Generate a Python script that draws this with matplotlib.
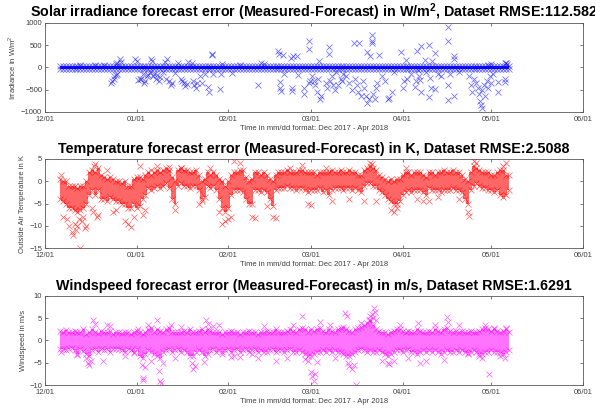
import numpy as np
import pandas as pd
import matplotlib
matplotlib.use("Agg")
import matplotlib.pyplot as plt
import matplotlib.dates as mdates

plt.rcParams["font.family"] = ["Liberation Sans", "DejaVu Sans"]
plt.rcParams["mathtext.fontset"] = "custom"
plt.rcParams["mathtext.rm"] = "Liberation Sans"
plt.rcParams["mathtext.bf"] = "Liberation Sans:bold"

# ── Data (days counted from 2017-12-01) ───────────────────────────────────────
BASE = pd.Timestamp("2017-12-01")
first_day, last_day = 5, 157          # daily band covers Dec 6 .. May 7

# temperature: dense band edges per day (K)
temp_hi = [0.5, 0, 0, -1, -1, -1, -1.5, -1, -1, 0,
           2, 2.5, 2, 3, 1.5, 1, 0.5, 1, 0.5, 0,
           0, -0.5, 0, -1, -1, 0.5, 1, 1, 0.5, 1.5,
           2, 1.5, 2, 2.5, 2, 2.5, 3, 2.5, 1, 0,
           2.5, 3, 2.5, 2.5, 2, 2, 2.5, 1.5, 0, 0.5,
           2, 1.5, 2, 1.5, 0.5, 0, -1, 0, 1.5, 2,
           2, 2.5, 2.5, 1, 0, 0.5, 2, 2, 1.5, 2,
           1.5, 0.5, 0, 1.5, 2, 2, 2, 2.5, 2, 2,
           2, 2.5, 2.5, 2, 2, 2, 2, 1.5, 2, 2,
           2, 2, 2.5, 2, 2, 2.5, 2, 2, 2.5, 2,
           2, 1.5, 1.5, 2.5, 3, 3.5, 3, 2.5, 1.5, 1,
           0.5, 0, 0.5, 0, 0.5, 0.5, 1.5, 2, 2, 1.5,
           2, 2, 2, 1.5, 1, 2, 2, 1.5, 2, 2,
           2.5, 2, 2, 2.5, 2, 2, 1.5, 0.5, 0, 2,
           3.5, 3, 2.5, 2, 2, 2, 1.5, 1.5, 2, 2.5,
           2.5, 1.5, 1.5]
temp_lo = [-4, -4.5, -5, -6, -6, -6.5, -7, -6.5, -6, -5,
           -3, -2, -3, -2, -4, -4, -4.5, -3.5, -4, -4.5,
           -4.5, -5, -5, -6, -6, -5, -6, -5.5, -4, -3,
           -1.5, -2, -1.5, -1, -1.5, -1, -0.5, -1.5, -4, -5,
           -1, -0.5, -1, -1, -1.5, -1, -1, -2, -4, -3.5,
           -1, -1.5, -1, -2, -4, -6, -7, -6, -3, -2,
           -2, -2, -2.5, -4, -5, -5, -2, -2, -2.5, -2,
           -2.5, -4, -5.5, -2, -1.5, -1.5, -1.5, -1, -1.5, -1.5,
           -2, -1.5, -1.5, -2, -2.5, -2, -2, -2, -1.5, -2.5,
           -2, -3, -2, -1.5, -1.5, -1.5, -2, -1.5, -1.5, -2,
           -1.5, -2, -2.5, -1, -0.5, -0.5, -1, -1, -2, -2.5,
           -3, -4, -4.5, -5, -5, -4.5, -3, -2.5, -2, -2.5,
           -2, -2, -2, -2.5, -3, -1.5, -2, -2, -2, -2.5,
           -2, -2, -2, -1.5, -2, -2, -2.5, -4, -5, -2,
           -1, -0.5, -1, -1.5, -1.5, -2, -2, -2.5, -2, -3,
           -3.5, -3, -2]
temp_out_day = [5.5, 6, 7.5, 8, 9, 9.5, 10, 10.5, 11, 11.5, 12, 12.5, 13, 13.5, 14,
                16, 16.2, 16.5, 17, 17.5, 18, 21, 23, 24, 27, 28, 29, 30, 32, 33,
                34, 36, 38, 42, 44, 46, 52, 53, 56, 59, 60, 61, 62, 63, 64, 66,
                70, 71, 75, 77, 78, 83, 87, 89, 90, 95, 97, 103, 108, 110, 110.5,
                112, 117, 118, 119, 122, 126, 128, 130, 133, 140, 143, 143.5,
                145, 146, 155, 156]
temp_out_val = [1.5, -8, -8.5, -10, -11.5, -12, -9.5, -11, -10, -8.5, -15, -9, -8, -10.5, -10,
                -6, -7, 3.5, 3.8, -8, -7.5, 2.5, -7, -6.5, -9, -9.5, -10.3, -8, 3.5, -7.5,
                -6.5, 2.5, 3.5, 3.2, -6.5, 3, -5, -4.5, 3, -7, -9.5, -9, -8.5, -8, 4.5, 4.2,
                -8, -8.2, -5.5, -8, -8.2, 3, 3.6, -5, -5.3, 3, -4.5, -4, -4.5, 4, 3.8,
                -4.5, -6.5, -7, -6, 3, -4, -4.5, -4.5, -3.5, -4, -7, -7.8,
                4.5, 4.2, 3.5, 4]

# windspeed: dense band edges per day (m/s)
wind_hi = [2.2, 2.0, 2.4, 1.8, 2.0, 2.2, 1.8, 2.0, 2.5, 1.5,
           1.8, 2.5, 2.0, 1.6, 2.2, 2.0, 1.8, 2.2, 1.5, 1.8,
           2.0, 1.6, 1.8, 2.0, 1.5, 1.8, 2.2, 2.0, 1.5, 1.8,
           2.5, 2.8, 2.0, 2.5, 2.2, 2.0, 2.5, 2.8, 2.0, 1.8,
           2.0, 1.8, 2.2, 2.0, 2.5, 2.0, 1.8, 2.2, 2.5, 2.0,
           2.5, 2.2, 2.0, 1.8, 2.0, 1.5, 1.8, 2.0, 2.2, 1.8,
           2.0, 1.5, 1.8, 2.0, 2.2, 1.8, 2.0, 1.5, 1.8, 2.0,
           2.2, 2.0, 1.8, 2.5, 2.0, 2.0, 1.8, 2.2, 2.5, 2.2,
           2.0, 2.5, 2.8, 2.5, 2.0, 2.5, 2.2, 2.5, 2.8, 2.2,
           2.0, 2.5, 2.2, 2.0, 2.5, 2.8, 3.0, 2.5, 2.2, 2.0,
           2.5, 2.8, 3.0, 3.5, 4.0, 4.5, 3.5, 2.5, 2.2, 2.0,
           1.8, 1.5, 2.0, 2.2, 2.5, 2.5, 2.2, 2.0, 2.2, 2.0,
           2.0, 2.5, 2.2, 1.8, 2.0, 2.2, 2.0, 2.5, 2.2, 2.0,
           2.5, 2.8, 2.2, 2.0, 2.2, 2.0, 2.2, 2.0, 1.8, 2.2,
           2.0, 1.8, 2.2, 2.5, 2.8, 2.5, 2.2, 2.5, 2.2, 2.0,
           2.2, 2.5, 2.0]
wind_lo = [-2.0, -1.8, -2.2, -2.0, -1.6, -2.2, -3.0, -2.0, -2.4, -3.0,
           -3.5, -2.2, -2.0, -2.5, -2.0, -2.2, -2.0, -2.5, -2.0, -1.8,
           -2.0, -2.2, -2.5, -2.0, -2.2, -2.5, -2.0, -3.5, -4.0, -3.0,
           -2.2, -2.5, -3.0, -3.5, -4.0, -2.5, -2.2, -2.0, -2.5, -2.2,
           -2.0, -2.5, -2.2, -2.5, -3.5, -3.5, -2.5, -2.2, -2.5, -3.5,
           -3.0, -2.2, -2.0, -2.5, -2.2, -2.5, -2.2, -2.0, -2.5, -2.2,
           -2.0, -2.5, -2.2, -2.0, -2.5, -2.2, -2.0, -2.5, -2.2, -2.5,
           -2.5, -2.2, -2.0, -2.5, -2.2, -2.2, -2.5, -2.2, -2.0, -2.5,
           -2.5, -2.2, -2.5, -3.0, -3.5, -3.5, -3.0, -2.5, -2.5, -2.2,
           -2.5, -2.2, -2.5, -2.2, -2.5, -2.5, -3.0, -3.5, -3.5, -3.0,
           -2.5, -2.2, -2.0, -2.2, -2.5, -2.2, -2.5, -2.5, -2.2, -2.5,
           -3.0, -3.5, -3.0, -2.5, -2.2, -2.2, -2.5, -2.2, -2.0, -2.5,
           -2.5, -3.0, -2.5, -2.2, -2.5, -2.2, -2.5, -2.2, -2.5, -3.0,
           -2.5, -2.2, -2.5, -2.5, -2.2, -2.5, -2.2, -2.5, -2.8, -2.5,
           -2.2, -2.5, -3.0, -3.0, -2.5, -2.5, -2.2, -2.5, -2.5, -2.8,
           -3.0, -2.5, -2.2]
wind_out_day = [5.5, 11, 14, 14.5, 15, 15.5, 16.4, 16.8, 19.5, 21, 22, 27, 30, 31.5,
                32.7, 33, 33.3, 34, 35, 36, 37.8, 38.5, 39, 39.3, 40, 42.5, 44, 46,
                49.6, 50.2, 50.7, 53.8, 54.5, 55, 57, 59, 60, 63, 64, 66, 70, 72, 74,
                78, 82, 84, 86.8, 88, 89, 90, 90.5, 91, 91.5, 92, 93, 96.4, 98,
                101.5, 102.2, 102.5, 103, 104, 104.5, 105.4, 107, 109.5, 110, 110.5,
                111, 111.3, 111.8, 112, 114, 116, 116.5, 118, 120, 123, 126.3, 127,
                129, 132, 135, 136, 136.3, 140, 143, 147, 148, 149, 150.3, 152, 154,
                155.5, 156]
wind_out_val = [-2.5, -3.2, -4, -5, -5.5, -4.5, 4.5, 3.8, -4.5, 3.5, 3.2, -3.5, -2.8, 2.5,
                -5.5, -8.5, -8.8, -6, 3.5, -4.5, 4.5, -6.8, -9, -9.5, -5, 3.5, -4, 3,
                -5, -6.5, -5.8, -4.8, 4.5, 3.8, 3.2, 3.5, -3, -3.7, -3.5, -3.7, -3, -4, 3.2,
                -4.5, -4, 3.5, 5.6, -4.2, -4.5, -7, -8, -9.2, -7.5, -4.8, 4.2, 3.5, -4,
                6.2, 5.5, -5, -5.8, -6.3, -5.5, -10, 4, 4.5, 5.5, 6,
                5, 7.3, 6.5, 4.5, -4.5, -5, -5.3, -4.5, 3.5, -4, 4, -5,
                -4.5, 3.5, -4.3, 5.2, 4.2, 3.5, -3, -3.5, -4, 3.5, -7.5, 2.8, -3.5,
                -4, 2.8]

# irradiance: thin band around zero per day (W/m^2)
irr_hi = [25, 25, 28, 25, 25, 28, 25, 25, 28, 25,
          25, 28, 25, 28, 25, 28, 25, 28, 30, 28,
          28, 25, 28, 25, 30, 28, 30, 28, 30, 28,
          30, 28, 30, 32, 30, 30, 28, 30, 28, 30,
          28, 25, 28, 25, 28, 25, 28, 25, 28, 25,
          25, 28, 25, 25, 28, 25, 28, 25, 25, 28,
          25, 28, 25, 28, 25, 28, 25, 25, 28, 25,
          28, 25, 28, 25, 28, 25, 28, 30, 28, 30,
          28, 30, 28, 30, 28, 30, 30, 28, 30, 30,
          28, 30, 28, 30, 30, 28, 30, 28, 30, 30,
          28, 30, 28, 30, 28, 30, 30, 32, 30, 28,
          28, 25, 28, 28, 25, 28, 28, 30, 28, 28,
          28, 25, 28, 25, 28, 28, 25, 28, 28, 28,
          25, 28, 28, 30, 28, 30, 28, 28, 28, 28,
          30, 28, 28, 30, 32, 30, 28, 30, 32, 35,
          35, 32, 30]
irr_lo = [-25, -25, -28, -25, -25, -28, -25, -25, -28, -25,
          -25, -28, -25, -28, -25, -28, -25, -28, -30, -28,
          -28, -25, -28, -25, -30, -28, -30, -28, -30, -28,
          -32, -30, -30, -32, -30, -30, -28, -30, -28, -30,
          -28, -25, -28, -25, -28, -25, -28, -25, -28, -25,
          -25, -28, -25, -25, -28, -25, -28, -25, -25, -28,
          -25, -28, -25, -28, -25, -28, -25, -25, -28, -25,
          -28, -25, -28, -25, -28, -25, -28, -30, -28, -30,
          -28, -30, -28, -30, -28, -30, -30, -28, -30, -30,
          -28, -30, -28, -30, -30, -28, -30, -28, -30, -30,
          -28, -30, -28, -30, -28, -30, -30, -32, -30, -28,
          -28, -25, -28, -28, -25, -28, -28, -30, -28, -28,
          -28, -25, -28, -25, -28, -28, -25, -28, -28, -28,
          -25, -28, -28, -30, -28, -30, -28, -28, -28, -28,
          -30, -28, -28, -30, -32, -30, -28, -30, -32, -35,
          -35, -32, -30]
irr_out_day = [12, 17, 20, 24, 22.5, 22.8, 23.2, 23.5, 24, 24.3, 24.5, 25.4, 25.6,
               30.5, 31, 31.5, 32, 32.5, 33, 33.5, 34, 34.5, 35, 35.5,
               36, 36.3, 36.5, 37, 37.5, 38, 38.5, 39, 40, 40.5, 41, 41.3,
               42, 42.5, 43, 44, 45, 46, 46.5, 47, 47.5, 48, 48.5,
               49.6, 50, 50.5, 51, 51.3,
               52.5, 53, 54, 55.3, 55.5, 56.4, 56.6, 57, 59.2, 59.5, 60,
               63.2, 66, 72.2, 73, 74,
               79, 79.2, 79.4, 79.6, 79.8, 80.6, 81, 83.5, 83.7, 83.3, 84, 85.2, 85.5,
               87.5, 87.8, 89.2, 89.4, 89.5, 89.8, 90.5, 91, 91.5, 92, 92.3, 92.6, 93, 93.3,
               95, 95.5, 96, 96.2, 96.5, 97, 97.5, 98, 98.5, 99, 100, 100.5, 101, 102,
               103, 104, 104.7, 105, 105.5, 106, 106.4, 106.8, 107.5, 108, 108.7, 108.9,
               109, 109.5, 110, 110.6, 110.7, 110.8, 111, 111.5, 112, 112.5, 113, 114,
               115, 116, 116.3, 117.4, 118,
               120.5, 121, 121.5, 122, 122.5, 124, 125.2, 125.5, 126, 126.3, 126.5,
               127.4, 127.4, 127, 128.5, 129, 130, 130, 130.3, 130.5, 131, 131.9, 131.9,
               133, 134, 136.4, 136.4, 136.4, 136.4, 137, 138.3, 138.3, 138.3, 140,
               143.5, 144, 144.5, 145, 146, 146.5, 147, 147.3, 147.6, 147.9, 148, 148.5,
               149, 149.5, 150, 150.5, 151, 151.5, 150, 151,
               153.3, 153.3, 155.6, 155.6, 155.6, 156, 156.5]
irr_out_val = [60, 50, 60, 80, -350, -300, -250, -200, -180, -150, 100, 180, 130,
               180, 150, -280, -270, -250, -150, -350, -300, -200, -180, -100,
               180, 150, -200, -150, -250, -180, -300, -220, -100, 120, -250, 200,
               -300, -400, -350, -120, 100, -250, -300, -350, -420, -380, 120,
               100, -300, -400, -450, -350,
               -200, -350, -150, -430, -540, 300, 280, -150, -480, -150, 80,
               -130, 50, -400, 100, 80,
               380, 300, -330, -450, -520, 280, -150, -450, -520, 220, 250, 250, -180,
               -450, -600, 600, 420, -350, -300, -200, -300, -400, -550, -250, 150, -700, -650,
               -350, -450, 300, 450, -300, -200, -400, -500, -100, -400, -250, -300, -150, -200,
               -350, -500, 540, -250, -400, -550, 560, -650, -300, -450, -650, -800,
               350, -700, 250, 730, 600, 550, -600, -700, -450, -350, 280, -200,
               -300, -700, -680, -550, -100,
               350, -450, -300, 170, -270, -150, -440, -300, 360, -50, -200,
               490, -540, -290, 170, -100, 510, -670, -240, -465, 135, 320, -490,
               -150, -200, 900, 585, -730, -390, -150, 250, 190, -640, -100,
               -200, -400, -550, -250, -350, -450, -600, -750, -850, -910, -500, -400,
               -650, -300, -450, -200, -350, -150, 60, 70,
               -560, -320, -260, -330, 90, 100, 80]

xlabel = "Time in mm/dd format: Dec 2017 - Apr 2018"
month_ticks = ["2017-12-01", "2018-01-01", "2018-02-01", "2018-03-01",
               "2018-04-01", "2018-05-01", "2018-06-01"]

panels = [
    dict(title="Solar irradiance forecast error (Measured-Forecast) in W/m$^{\\mathbf{2}}$, Dataset RMSE:112.582",
         ylabel="Irradiance in W/m$^2$", color="#0000ff", ylim=(-1000, 1000),
         yticks=[-1000, -500, 0, 500, 1000], fill_alpha=0.9,
         hi=irr_hi, lo=irr_lo, od=irr_out_day, ov=irr_out_val),
    dict(title="Temperature forecast error (Measured-Forecast) in K, Dataset RMSE:2.5088",
         ylabel="Outside Air Temperature in K", color="#ff0000", ylim=(-15, 5),
         yticks=[-15, -10, -5, 0, 5], fill_alpha=0.6,
         hi=temp_hi, lo=temp_lo, od=temp_out_day, ov=temp_out_val),
    dict(title="Windspeed forecast error (Measured-Forecast) in m/s, Dataset RMSE:1.6291",
         ylabel="Windspeed in m/s", color="#ff00ff", ylim=(-10, 10),
         yticks=[-10, -5, 0, 5, 10], fill_alpha=0.55,
         hi=wind_hi, lo=wind_lo, od=wind_out_day, ov=wind_out_val),
]


def to_dates(days):
    return BASE + pd.to_timedelta(np.asarray(days, dtype=float), unit="D")


fig = plt.figure(figsize=(5.95, 4.16), dpi=100)
bottoms = [0.7308, 0.4038, 0.0745]
band_days = np.arange(first_day, last_day + 1)

for p, b in zip(panels, bottoms):
    ax = fig.add_axes([0.0756, b, 0.904, 0.214])
    c = p["color"]
    xd = to_dates(band_days)
    ax.fill_between(xd, p["lo"], p["hi"], step="mid", color=c,
                    alpha=p["fill_alpha"], linewidth=0, zorder=2)
    mk = dict(ls="none", marker="x", color=c, ms=4, mew=0.6, alpha=0.55, zorder=3)
    ax.plot(xd, p["hi"], **mk)
    ax.plot(xd, p["lo"], **mk)
    ax.plot(to_dates(p["od"]), p["ov"], **mk)

    ax.set_xlim(pd.Timestamp(month_ticks[0]), pd.Timestamp(month_ticks[-1]))
    ax.set_xticks(pd.to_datetime(month_ticks))
    ax.xaxis.set_major_formatter(mdates.DateFormatter("%m/%d"))
    ax.set_ylim(*p["ylim"])
    ax.set_yticks(p["yticks"])

    ax.tick_params(direction="in", length=2.5, width=0.5, labelsize=5.5,
                   colors="0.25", top=True, right=True)
    ax.tick_params(axis="x", pad=3)
    ax.tick_params(axis="y", pad=2)
    for s in ax.spines.values():
        s.set_color("0.35")
        s.set_linewidth(0.6)

    ax.set_title(p["title"], fontsize=10.3, fontweight="bold", pad=4.5)
    ax.set_xlabel(xlabel, fontsize=5.5, color="0.25", labelpad=1)
    ax.set_ylabel(p["ylabel"], fontsize=5.5, color="0.25", labelpad=2)

plt.savefig("out.png", dpi=100)
